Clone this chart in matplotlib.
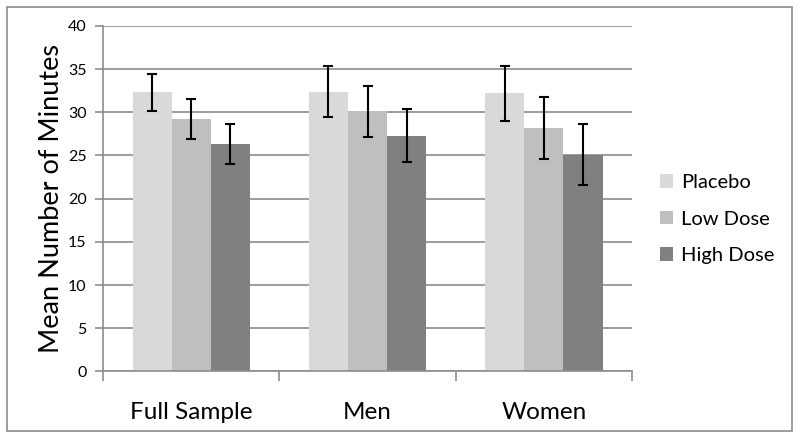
import matplotlib
matplotlib.use("Agg")
import matplotlib.pyplot as plt
import numpy as np
from matplotlib.patches import Rectangle

plt.rcParams['font.family'] = ['Lato', 'DejaVu Sans']

groups = ["Full Sample", "Men", "Women"]
series = ["Placebo", "Low Dose", "High Dose"]
colors = ["#d9d9d9", "#bfbfbf", "#808080"]
means = {
    "Placebo":   [32.3, 32.4, 32.2],
    "Low Dose":  [29.2, 30.1, 28.2],
    "High Dose": [26.3, 27.3, 25.1],
}
errs = {
    "Placebo":   [2.15, 3.0, 3.15],
    "Low Dose":  [2.3, 3.0, 3.55],
    "High Dose": [2.3, 3.05, 3.55],
}

fig = plt.figure(figsize=(8, 4.4), dpi=100)
ax = fig.add_axes([0.129, 0.156, 0.661, 0.785])

x = np.arange(len(groups))
w = 0.222
for i, s in enumerate(series):
    pos = x + (i - 1) * w
    ax.bar(pos, means[s], width=w, color=colors[i], label=s, zorder=2)
    ax.errorbar(pos, means[s], yerr=errs[s], fmt="none", ecolor="black",
                elinewidth=1.5, capsize=3.5, capthick=1.5, zorder=3)

ax.set_xlim(-0.5, 2.5)
ax.set_ylim(0, 40)
ax.set_yticks(range(0, 41, 5))
ax.yaxis.grid(True, color="#8c8c8c", linewidth=1.2, zorder=0)
ax.set_axisbelow(True)

# category ticks sit on boundaries
ax.set_xticks([-0.5, 0.5, 1.5, 2.5])
ax.set_xticklabels([])
ax.set_xticks(x, minor=True)
ax.set_xticklabels(groups, minor=True, fontsize=17.5)
ax.tick_params(axis="x", which="minor", length=0, pad=22)
ax.tick_params(axis="x", which="major", length=7, color="#8c8c8c", width=1.2)
ax.tick_params(axis="y", length=6, color="#8c8c8c", width=1.2, labelsize=11.5, pad=6)

for sp in ("top", "right"):
    ax.spines[sp].set_visible(False)
for sp in ("left", "bottom"):
    ax.spines[sp].set_color("#8c8c8c")
    ax.spines[sp].set_linewidth(1.2)

ax.set_ylabel("Mean Number of Minutes", fontsize=19.5, labelpad=3)

ax.legend(loc="center left", bbox_to_anchor=(660 / 800, 1 - 219 / 440),
          bbox_transform=fig.transFigure, frameon=False, borderpad=0,
          borderaxespad=0, fontsize=14.5, handlelength=0.65,
          handleheight=0.65, handletextpad=0.4, labelspacing=0.97)

fig.patches.append(Rectangle((7 / 800, 1 - 431 / 440), 785 / 800, 424 / 440,
                             transform=fig.transFigure, fill=False,
                             edgecolor="#8c8c8c", linewidth=1.2))

fig.savefig("out.png", dpi=100)
